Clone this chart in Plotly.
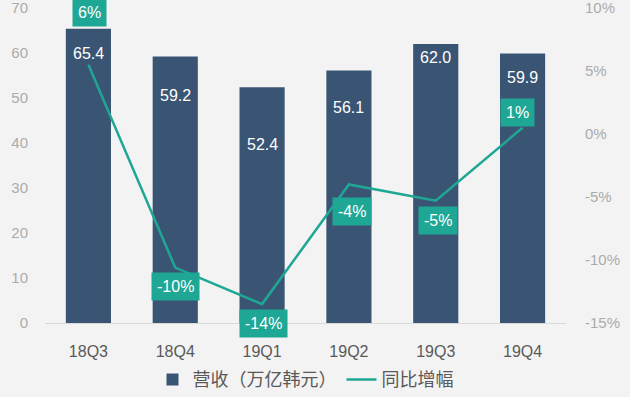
import plotly.graph_objects as go

# ---- data ----
quarters = ["18Q3", "18Q4", "19Q1", "19Q2", "19Q3", "19Q4"]
revenue = [65.4, 59.2, 52.4, 56.1, 62.0, 59.9]          # 营收（万亿韩元）
yoy = [5.5, -10.6, -13.5, -4.0, -5.3, 0.5]               # 同比增幅 (%)
yoy_labels = ["6%", "-10%", "-14%", "-4%", "-5%", "1%"]
left_ticks = [0, 10, 20, 30, 40, 50, 60, 70]
right_ticks = [-15, -10, -5, 0, 5, 10]
right_tick_text = ["-15%", "-10%", "-5%", "0%", "5%", "10%"]

# ---- label placement (pixels) ----
rev_label_shift = [-25, -39, -57, -37, -13, -24]
yoy_label_yshift = [52, -19, -19, -27, -20, 15]
yoy_label_xshift = [1, 0, 1, 3, 2, -5]

BAR = "#3a5573"
TEAL = "#1fa795"
FONT = "Liberation Sans, Arial, Noto Sans CJK SC, sans-serif"

fig = go.Figure()
fig.add_trace(go.Bar(
    x=quarters, y=revenue, name="营收（万亿韩元）",
    marker=dict(color=BAR, line=dict(width=0)), width=0.52,
    yaxis="y",
))
fig.add_trace(go.Scatter(
    x=quarters, y=yoy, name="同比增幅", mode="lines",
    line=dict(color=TEAL, width=2.5), yaxis="y2",
))

for q, v, s in zip(quarters, revenue, rev_label_shift):
    fig.add_annotation(x=q, y=v, yref="y", text=f"{v:.1f}", showarrow=False,
                       yshift=s, font=dict(color="white", size=16, family=FONT))

for q, v, t, ys, xs in zip(quarters, yoy, yoy_labels, yoy_label_yshift, yoy_label_xshift):
    fig.add_annotation(x=q, y=v, yref="y2", text=t, showarrow=False,
                       yshift=ys, xshift=xs, bgcolor=TEAL, borderpad=5,
                       font=dict(color="white", size=16, family=FONT))

fig.update_layout(
    width=630, height=397,
    margin=dict(l=45, r=64, t=8, b=74, autoexpand=False),
    paper_bgcolor="#f3f3f3", plot_bgcolor="#f3f3f3",
    font=dict(family=FONT, color="#595959"),
    showlegend=True,
    legend=dict(orientation="h", x=0.5, xanchor="center", y=-0.18, yanchor="middle",
                font=dict(size=18, color="#595959"), bgcolor="rgba(0,0,0,0)",
                itemwidth=30, tracegroupgap=0),
    xaxis=dict(range=[-0.5, 5.5], showline=True, linecolor="#d9d9d9", linewidth=1,
               showgrid=False, ticks="", tickfont=dict(size=16, color="#595959"),
               ticklabelstandoff=14),
    yaxis=dict(range=[0, 70], tickvals=left_ticks, showgrid=False, zeroline=False,
               showline=False, ticks="", tickfont=dict(size=15, color="#ababab"),
               ticklabelstandoff=16, ticklabeloverflow="allow"),
    yaxis2=dict(range=[-15, 10], overlaying="y", side="right", tickvals=right_ticks,
                ticktext=right_tick_text, showgrid=False, zeroline=False,
                showline=False, ticks="", tickfont=dict(size=15, color="#ababab"),
                ticklabelstandoff=18, ticklabeloverflow="allow"),
)

fig.write_html("out.html",
               config={"displayModeBar": False},
               post_script="document.body.style.margin='0';document.body.style.padding='0';"
                           "document.body.style.background='#f3f3f3';")
